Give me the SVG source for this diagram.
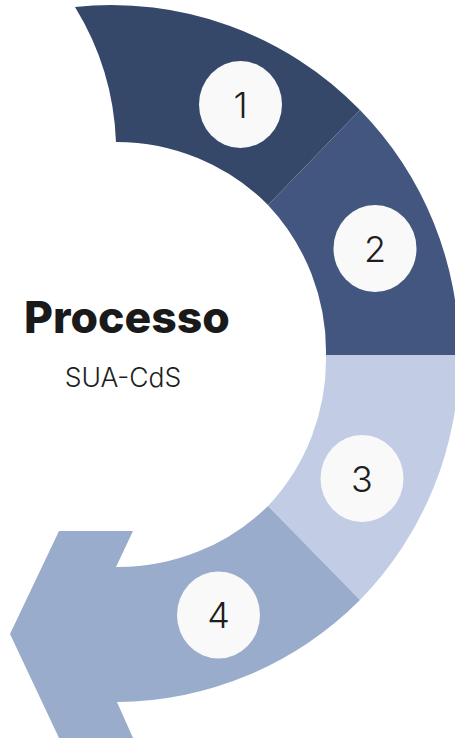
<svg xmlns="http://www.w3.org/2000/svg" width="455" height="740" viewBox="0 0 455 740">
<style>
.badge{fill:#F9F9F9}
.num{font-family:Inter,"Liberation Sans",sans-serif;font-size:36px;font-weight:300;fill:#1E1E1E;text-anchor:middle}
.title{font-family:Inter,"Liberation Sans",sans-serif;font-size:44.5px;font-weight:800;fill:#1A1A1A;text-anchor:middle}
.sub{font-family:Inter,"Liberation Sans",sans-serif;font-size:26.5px;font-weight:300;fill:#1E1E1E;text-anchor:middle}
</style>
<rect width="455" height="740" fill="#FFFFFF"/>
<g id="connectors"></g>
<g id="step1">
<path d="M75,7 A347,347 0 0 1 360,110 L268,205 A214,214 0 0 0 116,142 A278,278 0 0 0 75,7 Z" fill="#36486A"/>
<ellipse class="badge" cx="240.5" cy="104.5" rx="41.5" ry="43.5"/>
<text class="num" x="240.5" y="117.5">1</text>
</g>
<g id="step2">
<path d="M360,110 A347,347 0 0 1 459,355 L326,355 A214,214 0 0 0 268,205 Z" fill="#43567F"/>
<ellipse class="badge" cx="375" cy="248.5" rx="41.5" ry="43.5"/>
<text class="num" x="375" y="261.5">2</text>
</g>
<g id="step3">
<path d="M459,355 A347,347 0 0 1 360,600 L268,506 A214,214 0 0 0 326,355 Z" fill="#C2CCE5"/>
<ellipse class="badge" cx="362" cy="478.5" rx="41.5" ry="43.5"/>
<text class="num" x="362" y="491.5">3</text>
</g>
<g id="step4">
<path d="M360,600 A347,347 0 0 1 117,702 L133,738 L59,738 L10,634 L59,531 L133,531 L116,567 A214,214 0 0 0 268,506 Z" fill="#9AACCB"/>
<ellipse class="badge" cx="218.5" cy="615" rx="41.5" ry="43.5"/>
<text class="num" x="218.5" y="628">4</text>
</g>
<g id="label">
<text class="title" x="127" y="333">Processo</text>
<text class="sub" x="123" y="387">SUA-CdS</text>
</g>
</svg>
